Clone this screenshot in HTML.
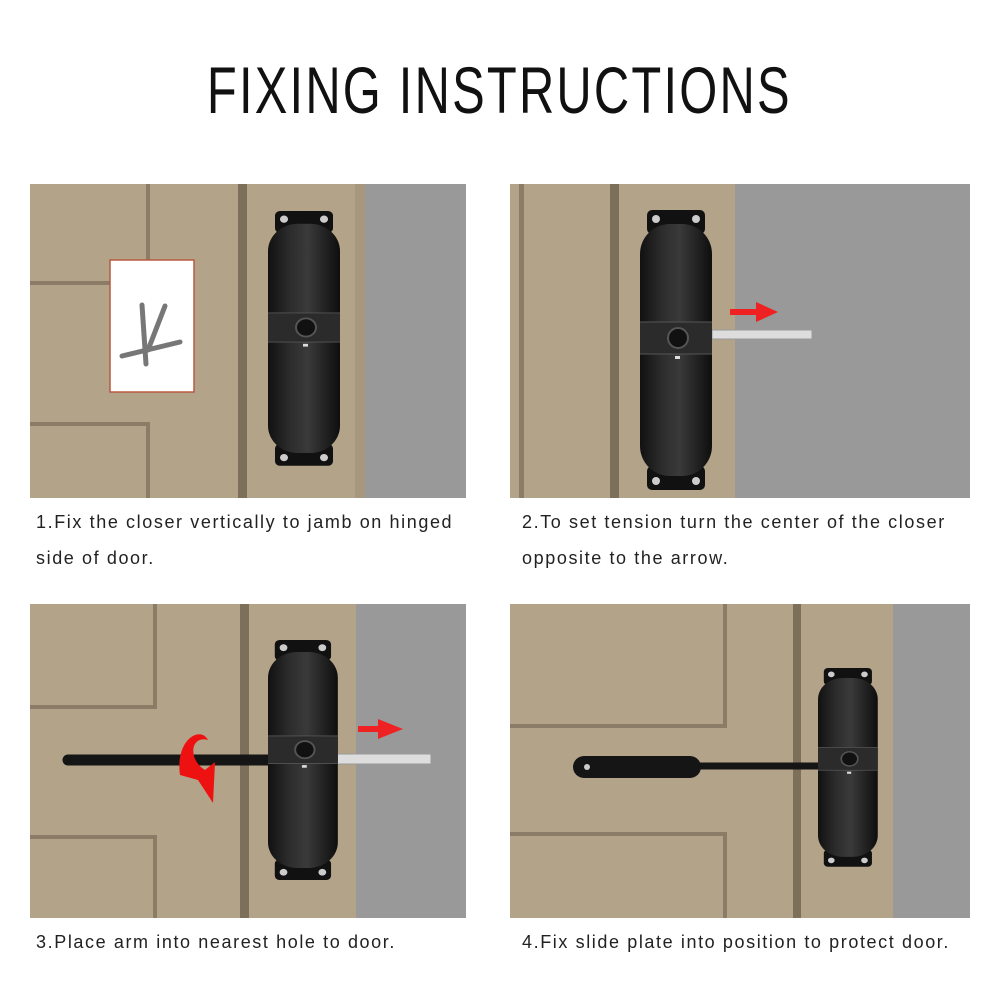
<!DOCTYPE html>
<html><head><meta charset="utf-8"><style>
html,body{margin:0;padding:0;background:#fff;}
body{width:1001px;height:1001px;overflow:hidden;position:relative;font-family:"Liberation Sans",sans-serif;}
.t{position:absolute;left:0;width:1001px;top:52px;text-align:center;font-size:66px;letter-spacing:3px;color:#111;transform:scaleX(0.74);transform-origin:496px 0;}
.c{position:absolute;font-size:18px;color:#222;line-height:36px;letter-spacing:1.6px;}
svg{position:absolute;left:0;top:0;}
</style></head><body>
<div class="t">FIXING INSTRUCTIONS</div>
<svg width="1001" height="1001" viewBox="0 0 1001 1001">
<defs>
<linearGradient id="bd" x1="0" x2="1">
<stop offset="0" stop-color="#111"/><stop offset="0.3" stop-color="#2c2c2c"/><stop offset="0.55" stop-color="#3a3a3a"/><stop offset="1" stop-color="#0e0e0e"/></linearGradient>
<g id="cl">
<rect x="7" y="0" width="58" height="24" rx="5" fill="#111"/>
<rect x="7" y="256" width="58" height="24" rx="5" fill="#111"/>
<circle cx="16" cy="9" r="4" fill="#ccc"/><circle cx="56" cy="9" r="4" fill="#ccc"/>
<circle cx="16" cy="271" r="4" fill="#ccc"/><circle cx="56" cy="271" r="4" fill="#ccc"/>
<rect x="0" y="14" width="72" height="252" rx="30" fill="url(#bd)"/>
<rect x="0" y="112" width="72" height="32" fill="#2b2b2b"/>
<line x1="0" y1="112" x2="72" y2="112" stroke="#555"/><line x1="0" y1="144" x2="72" y2="144" stroke="#555"/>
<circle cx="38" cy="128" r="10" fill="#111" stroke="#555" stroke-width="2"/>
<rect x="35" y="146" width="5" height="3" fill="#ddd"/>
</g>
</defs>
<!-- Panel 1 -->
<rect x="30" y="184" width="436" height="314" fill="#b3a388"/>
<rect x="365" y="184" width="101" height="314" fill="#999"/>
<rect x="355" y="184" width="10" height="314" fill="#a6977e"/>
<rect x="146" y="184" width="4" height="100" fill="#8a7c66"/>
<rect x="30" y="281" width="120" height="4" fill="#8a7c66"/>
<rect x="30" y="422" width="120" height="4" fill="#8a7c66"/>
<rect x="146" y="422" width="4" height="76" fill="#8a7c66"/>
<rect x="238" y="184" width="9" height="314" fill="#7d705b"/>
<rect x="110" y="260" width="84" height="132" fill="#fff" stroke="#b85a40" stroke-width="1.5"/>
<g stroke="#777" stroke-width="5" stroke-linecap="round">
<line x1="142" y1="305" x2="146" y2="364"/><line x1="165" y1="306" x2="148" y2="350"/><line x1="122" y1="356" x2="180" y2="342"/></g>
<g transform="translate(268,211) scale(1,0.91)"><use href="#cl"/></g>
<!-- Panel 2 -->
<rect x="510" y="184" width="460" height="314" fill="#b3a388"/>
<rect x="735" y="184" width="235" height="314" fill="#999"/>
<rect x="519" y="184" width="5" height="314" fill="#8a7c66"/>
<rect x="610" y="184" width="9" height="314" fill="#7d705b"/>
<rect x="712" y="330" width="100" height="9" fill="#ddd" stroke="#999"/>
<g transform="translate(640,210)"><use href="#cl"/></g>
<rect x="730" y="309" width="28" height="6" fill="#e22"/><polygon points="756,302 778,312 756,322" fill="#e22"/>
<!-- Panel 3 -->
<rect x="30" y="604" width="436" height="314" fill="#b3a388"/>
<rect x="356" y="604" width="110" height="314" fill="#999"/>
<rect x="153" y="604" width="4" height="105" fill="#8a7c66"/>
<rect x="30" y="705" width="127" height="4" fill="#8a7c66"/>
<rect x="30" y="835" width="127" height="4" fill="#8a7c66"/>
<rect x="153" y="835" width="4" height="83" fill="#8a7c66"/>
<rect x="240" y="604" width="9" height="314" fill="#7d705b"/>
<rect x="336" y="754" width="95" height="10" fill="#ddd" stroke="#999"/>
<line x1="68" y1="760" x2="272" y2="760" stroke="#151515" stroke-width="11" stroke-linecap="round"/>
<g transform="translate(268,640) scale(0.97,0.857)"><use href="#cl"/></g>
<path d="M180,775 C175,740 200,725 208,740 C190,735 188,760 205,770 L215,762 L213,803 L198,780 Z" fill="#e11"/>
<rect x="358" y="726" width="22" height="6" fill="#e22"/><polygon points="378,719 403,729 378,739" fill="#e22"/>
<!-- Panel 4 -->
<rect x="510" y="604" width="460" height="314" fill="#b3a388"/>
<rect x="893" y="604" width="77" height="314" fill="#999"/>
<rect x="723" y="604" width="4" height="124" fill="#8a7c66"/>
<rect x="510" y="724" width="217" height="4" fill="#8a7c66"/>
<rect x="510" y="832" width="217" height="4" fill="#8a7c66"/>
<rect x="723" y="832" width="4" height="86" fill="#8a7c66"/>
<rect x="793" y="604" width="8" height="314" fill="#7d705b"/>
<line x1="640" y1="766" x2="825" y2="766" stroke="#151515" stroke-width="7"/>
<rect x="573" y="756" width="128" height="22" rx="11" fill="#151515"/>
<circle cx="587" cy="767" r="3" fill="#ccc"/>
<g transform="translate(818,668) scale(0.83,0.71)"><use href="#cl"/></g>
</svg>
<div class="c" style="left:36px;top:504px;">1.Fix the closer vertically to jamb on hinged<br>side of door.</div>
<div class="c" style="left:522px;top:504px;">2.To set tension turn the center of the closer<br>opposite to the arrow.</div>
<div class="c" style="left:36px;top:924px;">3.Place arm into nearest hole to door.</div>
<div class="c" style="left:522px;top:924px;">4.Fix slide plate into position to protect door.</div>
</body></html>
